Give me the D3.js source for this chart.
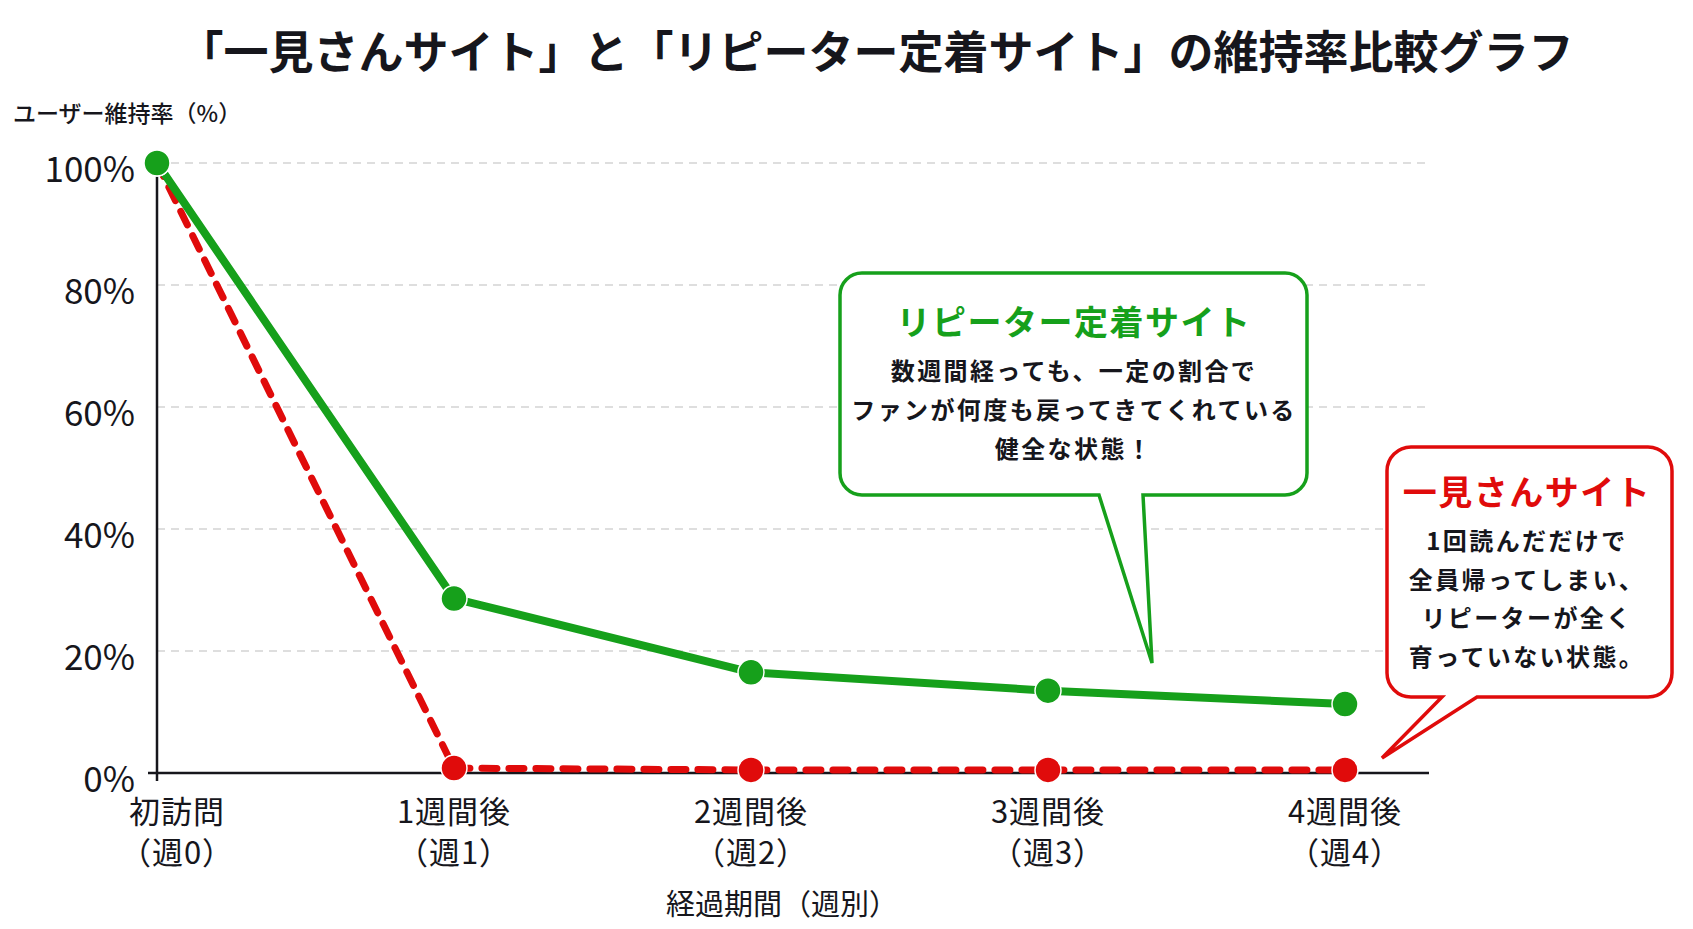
<!DOCTYPE html>
<html>
<head>
<meta charset="utf-8">
<script src="https://cdn.jsdelivr.net/npm/d3@7"></script>
<style>
  html, body { margin: 0; padding: 0; background: #fff; }
  svg { display: block; font-family: "Noto Sans CJK JP", "Noto Sans", sans-serif; }
</style>
</head>
<body>
<svg id="chart" width="1693" height="929"></svg>
<script>
// data
var weeks = ["初訪問", "1週間後", "2週間後", "3週間後", "4週間後"];
var weekSub = ["（週0）", "（週1）", "（週2）", "（週3）", "（週4）"];
var repeaterSite = [100, 28.6, 16.5, 13.5, 11.3];
var onceSite = [100, 0.8, 0.5, 0.5, 0.5];
var yTicks = [0, 20, 40, 60, 80, 100];

var GREEN = "#16a01b", RED = "#e00b0b", INK = "#16161c";

var svg = d3.select("#chart");
var width = 1693, height = 929;

var x = d3.scalePoint().domain(weeks).range([157, 1345]);
var y = d3.scaleLinear().domain([0, 100]).range([773, 163]);
var xRight = 1429;

// title
svg.append("text")
  .attr("x", 876).attr("y", 49)
  .attr("text-anchor", "middle").attr("dominant-baseline", "central")
  .attr("font-size", 45).attr("font-weight", 700).attr("fill", INK)
  .text("「一見さんサイト」と「リピーター定着サイト」の維持率比較グラフ");

// y axis title
svg.append("text")
  .attr("x", 13).attr("y", 112)
  .attr("dominant-baseline", "central")
  .attr("font-size", 23).attr("font-weight", 500).attr("fill", INK)
  .text("ユーザー維持率（%）");

// gridlines
svg.append("g").selectAll("line")
  .data(yTicks.filter(function(d){ return d > 0; }))
  .enter().append("line")
  .attr("x1", x(weeks[0])).attr("x2", xRight)
  .attr("y1", function(d){ return y(d); }).attr("y2", function(d){ return y(d); })
  .attr("stroke", "#d4d4d4").attr("stroke-width", 1.5)
  .attr("stroke-dasharray", "8 6");

// y tick labels
svg.append("g").selectAll("text")
  .data(yTicks).enter().append("text")
  .attr("x", 135).attr("y", function(d){ return y(d) + 3; })
  .attr("text-anchor", "end").attr("dominant-baseline", "central")
  .attr("font-size", 35).attr("fill", INK)
  .text(function(d){ return d + "%"; });

// axes
svg.append("line")
  .attr("x1", x(weeks[0])).attr("x2", x(weeks[0]))
  .attr("y1", y(100)).attr("y2", y(0) + 8)
  .attr("stroke", INK).attr("stroke-width", 2.5);
svg.append("line")
  .attr("x1", x(weeks[0]) - 9).attr("x2", xRight)
  .attr("y1", y(0)).attr("y2", y(0))
  .attr("stroke", INK).attr("stroke-width", 2.5);

// x tick labels (two lines each)
var xl = svg.append("g").selectAll("text").data(weeks).enter().append("text")
  .attr("text-anchor", "middle")
  .attr("font-size", 31).attr("letter-spacing", 1).attr("fill", INK);
xl.append("tspan")
  .attr("x", function(d, i){ return x(d) + (i === 0 ? 20 : 0); }).attr("y", 823)
  .text(function(d){ return d; });
xl.append("tspan")
  .attr("x", function(d, i){ return x(d) + (i === 0 ? 20 : 0); }).attr("y", 864)
  .text(function(d, i){ return weekSub[i]; });

svg.append("text")
  .attr("x", 782).attr("y", 902)
  .attr("text-anchor", "middle").attr("dominant-baseline", "central")
  .attr("font-size", 29).attr("fill", INK)
  .text("経過期間（週別）");

// lines
var line = d3.line()
  .x(function(d, i){ return x(weeks[i]); })
  .y(function(d){ return y(d); });

svg.append("path").datum(onceSite)
  .attr("d", line).attr("fill", "none")
  .attr("stroke", RED).attr("stroke-width", 7)
  .attr("stroke-dasharray", "15 12").attr("stroke-linecap", "round")
  .attr("stroke-linejoin", "round");

svg.append("path").datum(repeaterSite)
  .attr("d", line).attr("fill", "none")
  .attr("stroke", GREEN).attr("stroke-width", 8)
  .attr("stroke-linejoin", "round");

svg.append("g").selectAll("circle")
  .data(onceSite).enter().append("circle")
  .attr("cx", function(d, i){ return x(weeks[i]); })
  .attr("cy", function(d){ return y(d); })
  .attr("r", 13).attr("fill", RED)
  .attr("stroke", "#fff").attr("stroke-width", 1.5);

svg.append("g").selectAll("circle")
  .data(repeaterSite).enter().append("circle")
  .attr("cx", function(d, i){ return x(weeks[i]); })
  .attr("cy", function(d){ return y(d); })
  .attr("r", 13).attr("fill", GREEN)
  .attr("stroke", "#fff").attr("stroke-width", 1.5);

// callouts
function calloutPath(x0, y0, x1, y1, r, b0, b1, tx, ty) {
  return "M" + (x0 + r) + "," + y0 +
    "H" + (x1 - r) + "A" + r + "," + r + " 0 0 1 " + x1 + "," + (y0 + r) +
    "V" + (y1 - r) + "A" + r + "," + r + " 0 0 1 " + (x1 - r) + "," + y1 +
    "H" + b1 + "L" + tx + "," + ty + "L" + b0 + "," + y1 +
    "H" + (x0 + r) + "A" + r + "," + r + " 0 0 1 " + x0 + "," + (y1 - r) +
    "V" + (y0 + r) + "A" + r + "," + r + " 0 0 1 " + (x0 + r) + "," + y0 + "Z";
}

function callout(opt) {
  var g = svg.append("g");
  g.append("path")
    .attr("d", calloutPath(opt.x0, opt.y0, opt.x1, opt.y1, opt.r, opt.b0, opt.b1, opt.tx, opt.ty))
    .attr("fill", "#fff").attr("stroke", opt.color).attr("stroke-width", 3.5)
    .attr("stroke-linejoin", "miter");
  g.append("text")
    .attr("x", opt.cx).attr("y", opt.titleY)
    .attr("text-anchor", "middle").attr("dominant-baseline", "central")
    .attr("font-size", 34).attr("font-weight", 700).attr("letter-spacing", 1.5)
    .attr("fill", opt.color).text(opt.title);
  var body = g.append("text")
    .attr("text-anchor", "middle")
    .attr("font-size", 24).attr("font-weight", 700).attr("letter-spacing", 2.4)
    .attr("fill", INK);
  body.selectAll("tspan").data(opt.lines).enter().append("tspan")
    .attr("x", opt.cx).attr("y", function(d, i){ return opt.bodyY + 8 + i * opt.lh; })
    .text(function(d){ return d; });
}

callout({
  x0: 840, y0: 273, x1: 1307, y1: 495, r: 22,
  b0: 1099, b1: 1143, tx: 1152, ty: 663,
  color: GREEN, cx: 1074, titleY: 320, bodyY: 372, lh: 39,
  title: "リピーター定着サイト",
  lines: ["数週間経っても、一定の割合で", "ファンが何度も戻ってきてくれている", "健全な状態！"]
});

callout({
  x0: 1387, y0: 447, x1: 1672, y1: 697, r: 24,
  b0: 1442, b1: 1477, tx: 1382, ty: 758,
  color: RED, cx: 1527, titleY: 490, bodyY: 542, lh: 38.5,
  title: "一見さんサイト",
  lines: ["1回読んだだけで", "全員帰ってしまい、", "リピーターが全く", "育っていない状態。"]
});
</script>
</body>
</html>
